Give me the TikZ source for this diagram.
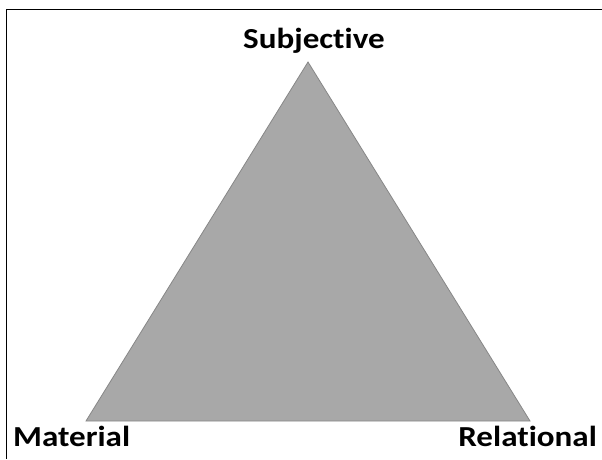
\documentclass[tikz,border=0pt]{standalone}
\usepackage{fontspec}
\setmainfont[RawFeature=-liga]{Carlito}
\begin{document}
\begin{tikzpicture}[x=1pt,y=-1pt,
  frameline/.style={line width=1.6pt,black},
  corner/.style={font=\bfseries\fontsize{29}{33}\selectfont,inner sep=0pt,xscale=1.14,transform shape}]
\useasboundingbox (0,0) rectangle (602,459);
\fill[white] (0,0) rectangle (602,459);
% frame: top and left edges only
\draw[frameline] (602,9.5) -- (6.5,9.5) -- (6.5,459);
% the triangle
\coordinate (top) at (308,62);
\coordinate (bl) at (86,421);
\coordinate (br) at (530,421);
\filldraw[fill={rgb,255:red,168;green,168;blue,168},draw={rgb,255:red,135;green,135;blue,135},line width=0.8pt,line join=miter]
  (top) -- (br) -- (bl) -- cycle;
% vertex labels
\node[corner,anchor=base] (subj) at (314,48) {Subjective};
\node[corner,anchor=base west] (mat) at (13,446.5) {Material};
\node[corner,anchor=base east] (rel) at (597,446.5) {Relational};
\end{tikzpicture}
\end{document}
